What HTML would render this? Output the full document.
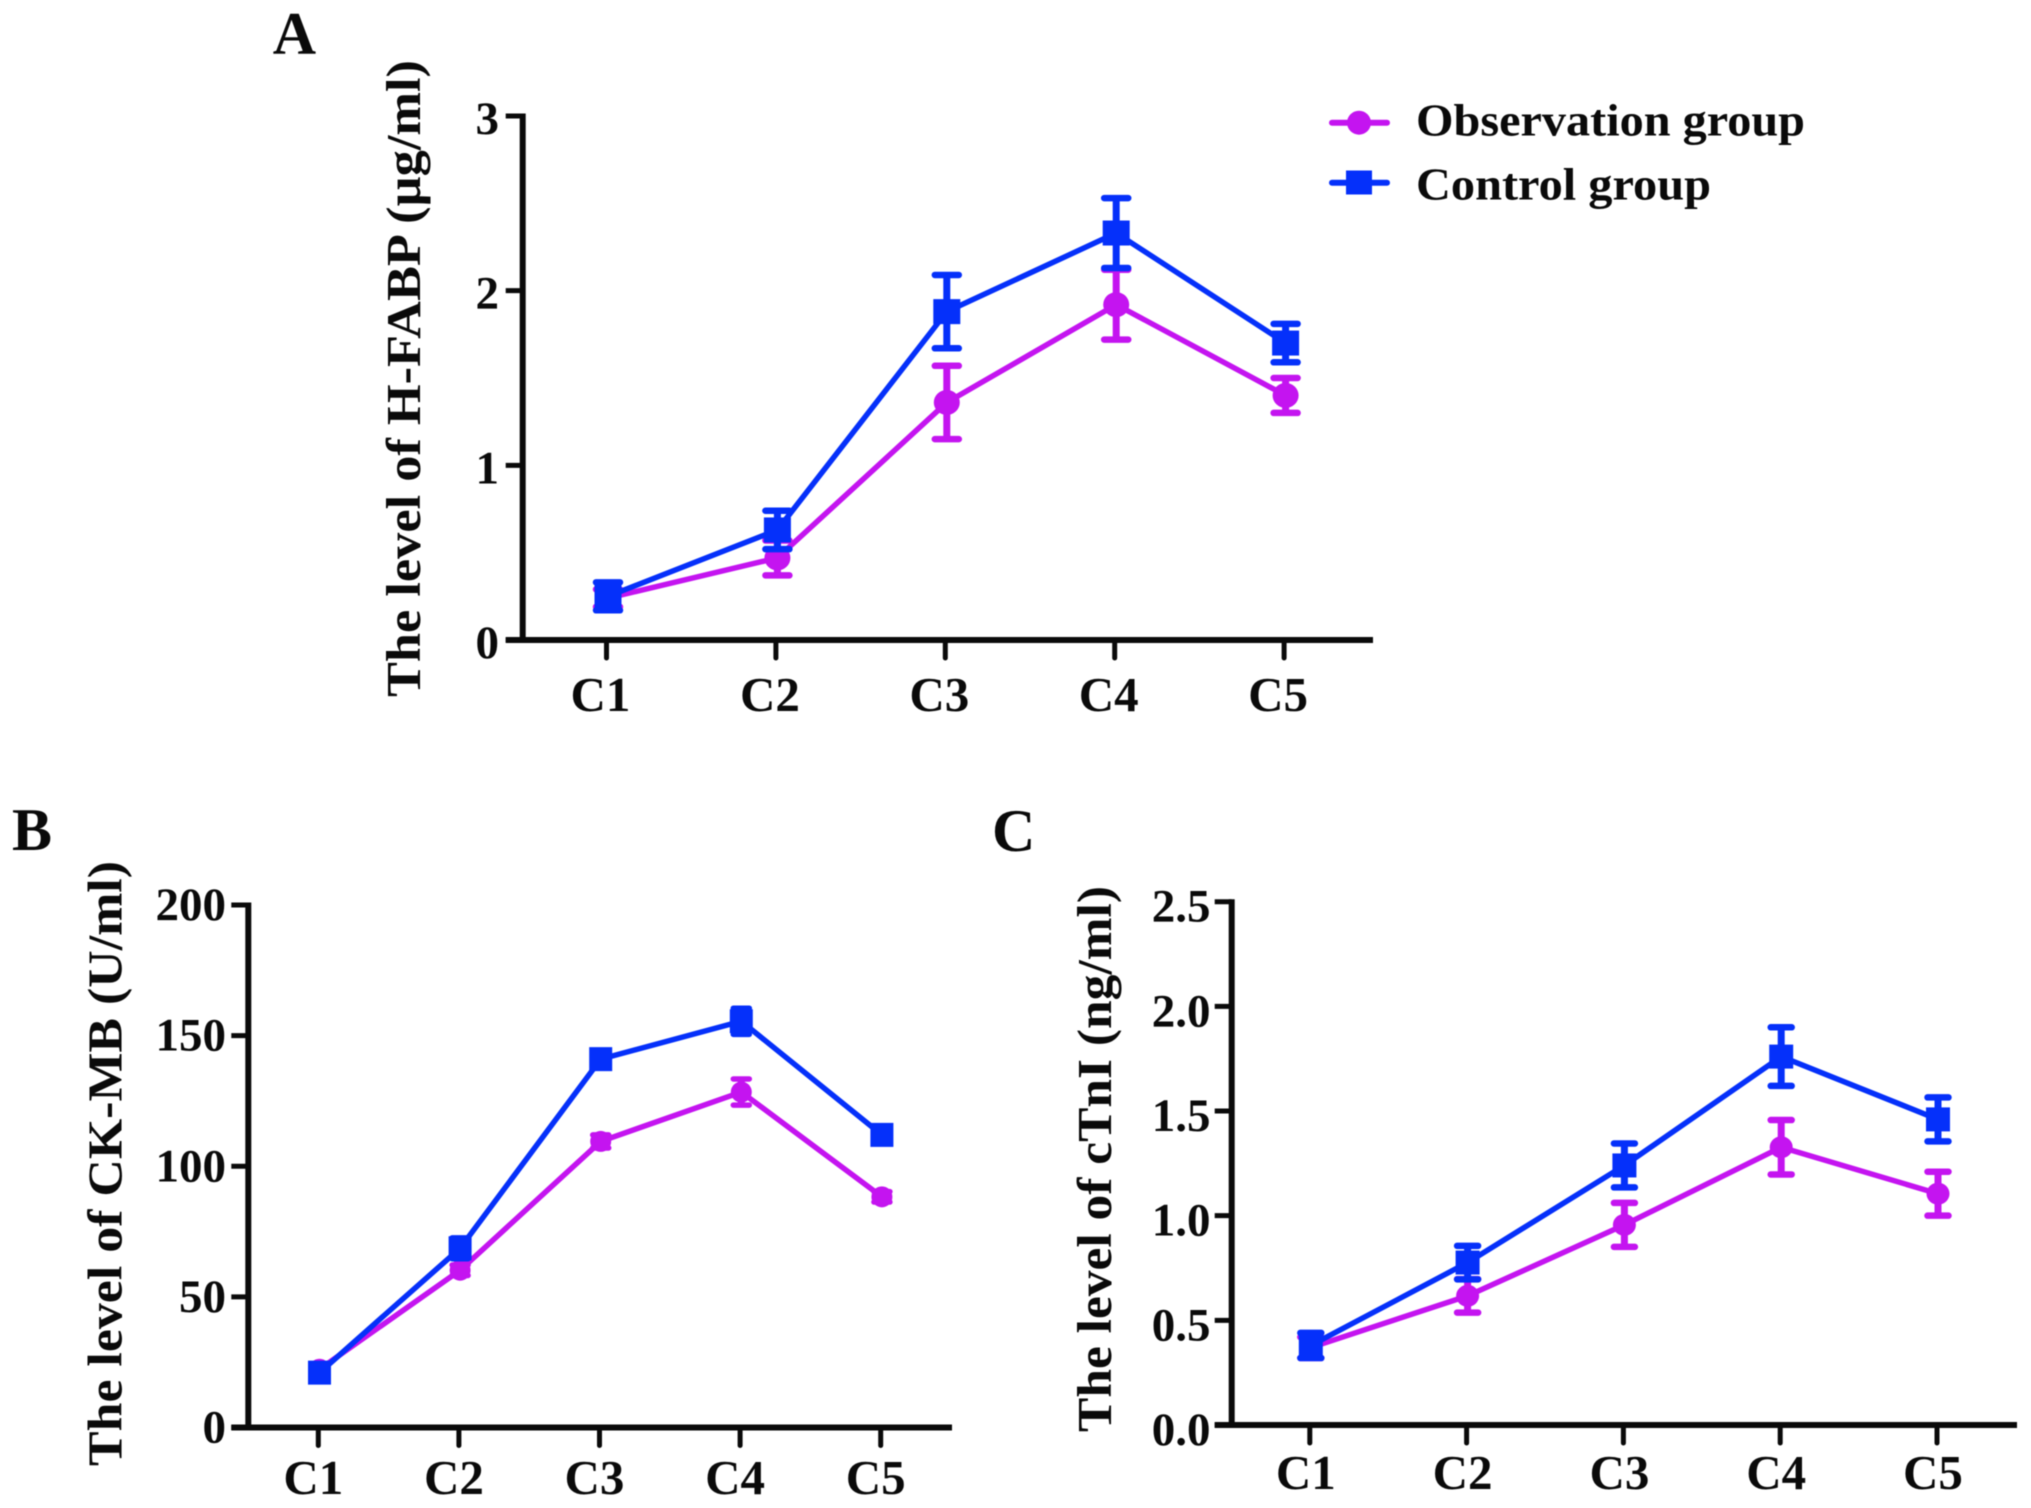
<!DOCTYPE html>
<html lang="en">
<head>
<meta charset="utf-8">
<title>Cardiac marker levels</title>
<style>
html,body{margin:0;padding:0;background:#fff;width:2031px;height:1508px;overflow:hidden}
svg{display:block;filter:blur(0.6px)}
text{font-family:"Liberation Serif",serif;font-weight:bold;fill:#0a0a0a}
</style>
</head>
<body>
<svg id="figure" xmlns="http://www.w3.org/2000/svg" width="2031" height="1508" viewBox="0 0 2031 1508">
  <rect width="2031" height="1508" fill="#fff"/>
  <g>
    <g>
      <line x1="1332" x2="1387" y1="122.7" y2="122.7" stroke="#c414f0" stroke-width="6" stroke-linecap="round"/>
      <circle cx="1359" cy="122.7" r="12" fill="#c414f0"/>
      <text x="1416" y="135.5" font-size="46" textLength="389" lengthAdjust="spacingAndGlyphs">Observation group</text>
    </g>
    <g>
      <line x1="1332" x2="1387" y1="182.7" y2="182.7" stroke="#0530fa" stroke-width="6" stroke-linecap="round"/>
      <rect x="1346" y="170.5" width="26" height="24" fill="#0530fa"/>
      <text x="1416" y="199.5" font-size="46" textLength="295" lengthAdjust="spacingAndGlyphs">Control group</text>
    </g>
  </g>
</svg>
<script>
const categories = ['C1', 'C2', 'C3', 'C4', 'C5'];

const ticksA = [0, 1, 2, 3];
const tickLabelsA = ['0', '1', '2', '3'];
const observationA = [0.24, 0.47, 1.36, 1.92, 1.40];
const observationErrA = [0.05, 0.10, 0.21, 0.20, 0.10];
const controlA = [0.25, 0.63, 1.88, 2.33, 1.70];
const controlErrA = [0.08, 0.11, 0.21, 0.20, 0.11];

const ticksB = [0, 50, 100, 150, 200];
const tickLabelsB = ['0', '50', '100', '150', '200'];
const observationB = [22.3, 60.2, 109.5, 128.4, 88.3];
const observationErrB = [1.5, 2, 2.5, 5, 2];
const controlB = [21, 68.6, 141, 155.5, 112];
const controlErrB = [1.5, 4, 2.5, 5, 1.5];

const ticksC = [0, 0.5, 1, 1.5, 2, 2.5];
const tickLabelsC = ['0.0', '0.5', '1.0', '1.5', '2.0', '2.5'];
const observationC = [0.37, 0.617, 0.956, 1.327, 1.105];
const observationErrC = [0.05, 0.08, 0.105, 0.13, 0.105];
const controlC = [0.38, 0.776, 1.24, 1.76, 1.46];
const controlErrC = [0.06, 0.08, 0.105, 0.14, 0.105];

const OBS_COLOR = '#c414f0';
const CTRL_COLOR = '#0530fa';
const INK = '#0a0a0a';
const svg = document.getElementById('figure');

function el(tag, parent, attrs, text) {
  const n = document.createElementNS('http://www.w3.org/2000/svg', tag);
  for (const k in attrs) n.setAttribute(k, attrs[k]);
  if (text !== undefined) n.textContent = text;
  parent.appendChild(n);
  return n;
}

function drawSeries(root, key, values, errs, color, marker, sx, sy, m) {
  const g = el('g', root, {});
  
  

  const pts = values.map((v, i) => sx(i) + ',' + sy(v)).join(' ');
  const line = el('polyline', g, { points: pts, fill: 'none', stroke: color, 'stroke-width': 5.5, 'stroke-linejoin': 'round' });
  
  

  values.forEach((v, i) => {
    const x = sx(i), hi = sy(v + errs[i]), lo = sy(v - errs[i]);
    const stem = el('line', g, { x1: x, x2: x, y1: hi, y2: lo, stroke: color, 'stroke-width': m.stem });
    
    

    [hi, lo].forEach((y) => {
      const cap = el('line', g, { x1: x - m.cap, x2: x + m.cap, y1: y, y2: y, stroke: color, 'stroke-width': m.capH, 'stroke-linecap': 'round' });
      
      
    });

    let mark;
    if (marker === 'circle') {
      mark = el('ellipse', g, { cx: x, cy: sy(v), rx: m.cw / 2, ry: m.ch / 2, fill: color });
    } else {
      mark = el('rect', g, { x: x - m.sw / 2, y: sy(v) - m.sh / 2, width: m.sw, height: m.sh, fill: color });
    }
    
    
  });
}

function drawPanel(p) {
  const root = el('g', svg, {});
  
  

  const sy = (v) => p.y0 + (p.y1 - p.y0) * (v - p.min) / (p.max - p.min);
  const tx = (i) => p.tick0 + p.tickStep * i;
  const sx = (i) => tx(i) + p.markOffset;

  const letter = el('text', root, { x: p.letterX, y: p.letterY, 'font-size': 60 }, p.id);
  
  

  const title = el('text', root, {
    transform: 'translate(' + p.titleX + ',' + p.titleBottom + ') rotate(-90)',
    x: 0, y: 0, 'font-size': 49, textLength: p.titleLen, lengthAdjust: 'spacingAndGlyphs'
  }, p.title);
  
  

  const yAxis = el('line', root, { x1: p.axisX, x2: p.axisX, y1: p.y1 - 2.5, y2: p.y0 + 2.5, stroke: INK, 'stroke-width': 6 });
  
  

  const xAxis = el('line', root, { x1: p.axisX - 17, x2: p.axisEnd, y1: p.y0, y2: p.y0, stroke: INK, 'stroke-width': 6 });
  
  

  p.ticks.forEach((t, i) => {
    const y = sy(t);
    const tick = el('line', root, { x1: p.axisX - 17, x2: p.axisX, y1: y, y2: y, stroke: INK, 'stroke-width': 5 });
    
    

    const lab = el('text', root, { x: p.yLabelX, y: y + p.yLabelDy, 'font-size': 47, 'text-anchor': 'end' }, p.tickLabels[i]);
    
    
  });

  categories.forEach((c, i) => {
    const tick = el('line', root, { x1: tx(i), x2: tx(i), y1: p.y0, y2: p.y0 + 18, stroke: INK, 'stroke-width': 5, 'stroke-linecap': 'round' });
    
    

    const lab = el('text', root, { x: tx(i) + p.xLabelDx, y: p.xLabelY, 'font-size': 49, 'text-anchor': 'middle' }, c);
    
    
  });

  drawSeries(root, 'observation', p.observation, p.observationErr, OBS_COLOR, 'circle', sx, sy, p.mark);
  drawSeries(root, 'control', p.control, p.controlErr, CTRL_COLOR, 'square', sx, sy, p.mark);
}

const markA = { stem: 7, cap: 12, capH: 6.5, sw: 27, sh: 25, cw: 26, ch: 25 };
const markB = { stem: 7, cap: 8, capH: 5.5, sw: 23, sh: 24, cw: 21, ch: 21 };
const markC = { stem: 7, cap: 10.5, capH: 6.5, sw: 24, sh: 24, cw: 23, ch: 22 };

drawPanel({
  id: 'A', title: 'The level of H-FABP (\u00b5g/ml)',
  min: 0, max: 3, y0: 640, y1: 116, axisX: 522.7, axisEnd: 1373,
  tick0: 606.5, tickStep: 169.4, markOffset: 1.5,
  yLabelX: 499, yLabelDy: 18, xLabelDx: -6, xLabelY: 711,
  letterX: 272.7, letterY: 53.5,
  titleX: 420, titleBottom: 697, titleLen: 637,
  ticks: ticksA, tickLabels: tickLabelsA,
  observation: observationA, observationErr: observationErrA,
  control: controlA, controlErr: controlErrA, mark: markA
});

drawPanel({
  id: 'B', title: 'The level of CK-MB (U/ml)',
  min: 0, max: 200, y0: 1427.5, y1: 905, axisX: 248.3, axisEnd: 952,
  tick0: 318.3, tickStep: 140.6, markOffset: 1.2,
  yLabelX: 226, yLabelDy: 15, xLabelDx: -5, xLabelY: 1494,
  letterX: 12, letterY: 850,
  titleX: 121.5, titleBottom: 1466, titleLen: 605,
  ticks: ticksB, tickLabels: tickLabelsB,
  observation: observationB, observationErr: observationErrB,
  control: controlB, controlErr: controlErrB, mark: markB
});

drawPanel({
  id: 'C', title: 'The level of cTnI (ng/ml)',
  min: 0, max: 2.5, y0: 1425, y1: 901.7, axisX: 1231.7, axisEnd: 2017,
  tick0: 1309.8, tickStep: 156.8, markOffset: 1,
  yLabelX: 1210.5, yLabelDy: 20, xLabelDx: -4, xLabelY: 1489,
  letterX: 992, letterY: 851,
  titleX: 1111, titleBottom: 1432, titleLen: 546,
  ticks: ticksC, tickLabels: tickLabelsC,
  observation: observationC, observationErr: observationErrC,
  control: controlC, controlErr: controlErrC, mark: markC
});
</script>
</body>
</html>
